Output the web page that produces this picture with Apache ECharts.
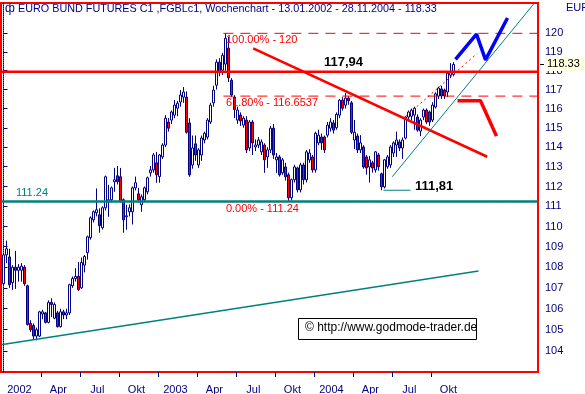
<!DOCTYPE html>
<html>
<head>
<meta charset="utf-8">
<script src="https://cdn.jsdelivr.net/npm/echarts@6.0.0/dist/echarts.min.js"></script>
<style>
html,body{margin:0;padding:0;background:#fff;}
#chart{width:585px;height:394px;}
</style>
</head>
<body>
<div id="chart"></div>
<script>
// ---------------- data ----------------
const instrument = 'EURO BUND FUTURES C1 ,FGBLc1, Wochenchart';
const firstWeek = '2002-01-13';
const opens = [
 107.2,108.6,108.5,107.25,108.0,107.85,107.85,108.0,107.1,105.3,
 105.2,104.7,104.7,105.75,105.8,105.35,106.3,105.55,105.8,105.15,
 105.85,105.7,105.8,107.1,107.45,107.56,107.0,108.1,108.71,109.45,
 110.33,110.68,110.58,109.94,110.93,111.23,111.33,112.24,112.54,112.49,
 111.33,110.48,110.73,110.73,111.93,111.63,111.08,111.33,111.73,112.69,
 112.84,113.2,112.5,113.5,114.11,115.3,115.4,115.66,116.02,116.34,
 116.6,116.6,115.25,113.09,114.17,113.09,113.6,114.37,114.52,115.3,
 116.3,117.23,118.45,118.02,118.35,119.2,117.49,116.6,115.4,115.66,
 115.14,115.4,113.96,115.3,114.01,114.11,113.76,114.11,113.5,113.86,
 114.98,113.35,113.5,112.69,112.99,112.59,111.43,112.34,112.94,111.83,
 113.09,112.34,113.35,113.5,112.84,114.22,114.52,114.52,114.62,114.98,
 115.25,115.0,115.66,116.44,116.18,116.55,116.3,114.37,114.57,113.86,
 114.01,113.5,112.99,113.2,112.84,113.6,112.64,111.98,113.0,113.09,
 113.7,114.11,114.27,113.96,114.47,115.56,115.6,115.66,115.56,114.83,
 115.56,115.92,115.82,115.4,116.08,116.65,117.03,116.97,116.87,117.76,
 117.8];
const highs = [
 108.7,109.3,108.9,108.1,108.8,108.15,108.2,108.1,107.15,105.45,
 105.3,105.1,105.9,105.95,105.85,106.4,106.5,106.3,105.9,106.0,
 105.95,106.0,107.2,107.55,107.95,108.25,108.47,108.6,109.55,110.5,
 110.8,111.9,110.9,111.0,112.55,112.08,112.0,112.94,113.04,112.94,
 111.4,111.08,111.1,112.0,112.5,111.93,111.6,112.0,112.5,113.04,
 113.7,113.76,113.65,114.2,115.66,115.5,115.9,116.44,116.4,116.97,
 117.13,116.9,115.5,114.6,114.6,113.95,114.6,114.8,115.5,116.3,
 117.2,118.6,118.66,118.95,120.0,119.8,117.6,116.7,116.1,115.8,
 115.6,115.6,115.4,115.4,114.4,114.52,114.4,114.2,114.0,115.1,
 115.2,113.7,113.6,113.45,113.2,112.7,112.4,113.1,113.0,113.2,
 113.2,113.85,113.9,113.6,114.8,114.9,114.7,114.6,115.3,115.5,
 115.4,115.8,116.5,116.6,116.81,116.65,116.4,115.4,114.7,114.62,
 114.1,113.6,113.55,113.3,113.8,113.7,112.7,113.4,113.6,114.1,
 114.3,114.8,114.4,114.5,115.6,115.9,116.0,116.1,115.7,115.5,
 116.0,116.0,115.9,116.33,116.85,117.15,117.2,117.05,117.95,118.4,
 118.45];
const lows = [
 107.1,108.2,107.0,106.9,106.95,107.3,107.3,107.1,105.2,104.9,
 104.55,104.5,104.65,105.5,105.3,105.3,105.6,105.5,105.1,105.1,
 105.5,105.5,105.7,107.0,107.3,106.85,106.95,107.75,108.37,109.35,
 110.2,110.5,109.69,109.85,110.8,110.48,111.2,111.73,112.1,111.2,
 109.69,109.84,110.5,110.1,111.8,111.2,110.73,111.2,111.6,112.5,
 112.7,112.19,112.19,113.4,114.0,114.8,115.2,115.5,115.6,116.1,
 116.3,114.7,112.49,112.9,113.3,112.94,113.3,114.2,114.4,115.2,
 116.1,117.0,117.7,117.76,118.0,117.4,116.6,115.5,115.2,115.1,
 115.0,113.7,113.8,113.6,113.8,113.95,113.6,112.69,112.94,113.7,
 113.4,112.69,112.5,112.59,112.3,111.24,111.3,112.2,111.7,111.7,
 112.1,112.2,113.2,112.7,112.7,114.1,113.86,113.7,114.5,114.8,
 114.7,114.9,115.5,115.9,116.0,116.2,114.67,113.9,113.7,113.7,
 112.9,112.6,112.2,112.7,112.7,112.8,111.81,111.9,112.9,112.94,
 113.5,113.5,113.8,113.4,114.4,115.4,115.4,114.9,114.8,114.57,
 115.4,115.2,115.1,115.3,116.0,116.5,116.5,116.5,116.6,117.6,
 117.7];
const closes = [
 108.6,108.9,107.15,108.0,107.85,108.0,108.05,107.2,105.25,105.0,
 104.7,105.0,105.85,105.85,105.35,106.3,106.2,106.2,105.15,105.85,
 105.7,105.8,107.15,107.45,107.55,106.92,108.23,108.52,109.49,110.43,
 110.73,110.83,110.04,110.93,112.49,111.33,111.93,112.34,112.24,111.23,
 110.33,110.53,110.93,111.93,112.19,111.33,111.48,111.93,112.44,112.84,
 113.6,112.59,113.6,114.11,115.5,114.98,115.82,116.18,116.28,116.71,
 116.87,114.77,112.59,113.96,113.6,113.86,114.47,114.72,115.4,116.18,
 116.97,118.45,117.94,118.82,119.73,117.62,116.71,115.95,115.92,115.35,
 115.5,113.86,115.3,114.22,114.11,114.37,114.27,113.35,113.86,114.98,
 113.6,113.5,112.59,113.35,112.49,111.43,112.34,112.99,111.83,113.09,
 112.34,113.76,113.7,112.84,114.72,114.62,114.22,113.86,115.14,115.3,
 114.88,115.7,116.44,116.02,116.55,116.4,114.77,114.77,113.86,114.22,
 112.99,112.94,113.35,112.94,113.76,113.0,111.98,113.35,113.5,114.01,
 114.22,114.37,113.96,114.37,115.56,115.82,115.92,116.02,114.88,115.4,
 115.92,115.3,115.3,116.18,116.77,117.08,116.66,116.66,117.86,117.92,
 118.33];

const quarterStarts = ['2002-01-01','2002-04-01','2002-07-01','2002-10-01','2003-01-01','2003-04-01',
                       '2003-07-01','2003-10-01','2004-01-01','2004-04-01','2004-07-01','2004-10-01'];
const quarterLabels = ['2002','Apr','Jul','Okt','2003','Apr','Jul','Okt','2004','Apr','Jul','Okt'];
const priceTicks = [104,105,106,107,108,109,110,111,112,113,114,115,116,117,118,119,120];

const resistanceLevel = 117.94;
const supportLevel = 111.24;
const low2004 = 111.81;
const fibLevels = [120, 116.6537, 111.24];
const fibNames = ['100.00%','61.80%','0.00%'];
const fibStartWeek = 73.3;
// drawn lines, as [week index, price]
const downTrend   = [[83.23,119.19],[161.23,113.51]];
const longSupport = [[-0.83,104.29],[158.33,107.82]];
const channelLine = [[129.57,112.49],[177.0,121.65]];
const dottedTrend = [[134.0,115.58],[157.9,118.92]];
const bullPath    = [[150.67,118.60],[157.67,119.96],[160.67,118.57],[168.0,120.83]];
const bearPath    = [[151.33,116.41],[159.0,116.41],[164.33,114.57]];
const lowMarker   = [[126.67,111.81],[135.67,111.81]];

// ---------------- helpers ----------------
const FONT = "'Liberation Sans', Arial, sans-serif";
const NAVY = '#000080';
const TEAL = '#008080';
const DAY = 86400000;
const t0 = Date.parse(firstWeek + 'T00:00:00Z');
const pad2 = n => (n < 10 ? '0' : '') + n;
const fmtDate = t => { const d = new Date(t); return pad2(d.getUTCDate()) + '.' + pad2(d.getUTCMonth()+1) + '.' + d.getUTCFullYear(); };
const weekDates = opens.map((_, i) => fmtDate(t0 + i*7*DAY));
const weekPos = iso => Math.ceil((Date.parse(iso + 'T00:00:00Z') - t0) / (7*DAY)) + 0.5;
const tickVals = quarterStarts.slice(1).map(weekPos);
const labelVals = quarterStarts.map(q => weekPos(q) + 5.8);
const lastClose = closes[closes.length-1];

const X_MIN = -0.8333, X_MAX = X_MIN + 179;
const Y_MIN = 103.02, Y_MAX = 121.65;

const candles = opens.map((o, i) => [i, o, closes[i], lows[i], highs[i]]);

function lineSeries(data, color, width, type, z) {
  return { type:'line', data, symbol:'none', showSymbol:false, silent:true, z: z||5, animation:false,
           lineStyle:{color, width, type: type||'solid', cap:'butt'} };
}
function textItem(coord, text, opts) {
  return { value: coord, label: Object.assign({ show:true, formatter:text, fontFamily:FONT,
           fontSize:11, color:'#ff0000', align:'left', verticalAlign:'top', opacity:1 }, opts) };
}

const annotations = [
  textItem([114, resistanceLevel], '117,94', {color:'#000', fontSize:13, fontWeight:'bold', position:[-21,-15]}),
  textItem([137.33, low2004], '111,81', {color:'#000', fontSize:13, fontWeight:'bold', position:[0,-10]}),
  textItem([4.33, supportLevel], '111.24', {color:TEAL, fontSize:11, position:[0,-14]})
];
fibLevels.forEach((lv, k) => {
  annotations.push(textItem([fibStartWeek + 1, lv], fibNames[k] + ' - ' + lv, {color:'#ff0000', fontSize:11, position:[0,2]}));
});

const series = [
  { type:'candlestick', data:candles, encode:{x:0, y:[1,2,3,4]}, barWidth:2, z:2, animation:false, silent:true,
    itemStyle:{color:'#ffffff', color0:'#ff0000', borderColor:NAVY, borderColor0:NAVY, borderWidth:1} },
  lineSeries(longSupport, TEAL, 1.5),
  lineSeries([[X_MIN, supportLevel],[X_MAX, supportLevel]], TEAL, 2.5),
  lineSeries([[X_MIN, resistanceLevel],[X_MAX, resistanceLevel]], '#ff0000', 2.5),
  lineSeries(downTrend, '#ff0000', 2.5),
  lineSeries(channelLine, TEAL, 1),
  lineSeries(dottedTrend, '#ff0000', 1, [2,3]),
  lineSeries(lowMarker, TEAL, 1),
  lineSeries(bullPath, '#0000ff', 3.5, 'solid', 6),
  lineSeries(bearPath, '#ff0000', 3.5, 'solid', 6)
];
fibLevels.forEach(lv => series.push(lineSeries([[fibStartWeek, lv],[X_MAX, lv]], '#ff0000', 1, [10,7], 4)));
series.push({ type:'scatter', data:annotations, symbol:'rect', symbolSize:1, silent:true, z:10, animation:false,
              itemStyle:{color:'rgba(0,0,0,0)', opacity:1}, labelLayout:{hideOverlap:false} });

const option = {
  animation:false,
  backgroundColor:'#ffffff',
  title:[
    { text:'\u0444', left:5, top:3, padding:0, textStyle:{fontFamily:FONT, fontSize:12, fontWeight:'normal', color:NAVY} },
    { text: instrument + ' - ' + weekDates[0] + ' - ' + weekDates[weekDates.length-1] + ' - ' + lastClose.toFixed(2),
      left:18, top:4, padding:0, textStyle:{fontFamily:FONT, fontSize:10.8, fontWeight:'normal', color:NAVY} },
    { text:'EUR', left:566, top:2, padding:0, textStyle:{fontFamily:FONT, fontSize:11, fontWeight:'normal', color:NAVY} }
  ],
  grid:{ left:1, right:47, top:3, bottom:22, show:true, borderColor:'#ff0000', borderWidth:2,
         backgroundColor:'#ffffff', containLabel:false, outerBoundsMode:'none' },
  xAxis:{ type:'value', min:X_MIN, max:X_MAX, position:'bottom',
    axisLine:{show:false}, splitLine:{show:false},
    axisTick:{show:true, customValues:tickVals, length:5, lineStyle:{color:NAVY}},
    axisLabel:{show:true, customValues:labelVals, color:NAVY, fontSize:11, fontFamily:FONT, margin:12,
      formatter:v => { const k = labelVals.findIndex(x => Math.abs(x - v) < 0.01); return k >= 0 ? quarterLabels[k] : ''; } } },
  yAxis:[
    { type:'log', logBase:10, min:Y_MIN, max:Y_MAX, position:'right', offset:2,
      axisLine:{show:true, lineStyle:{color:'#000', type:'dotted', width:1}},
      splitLine:{show:false},
      axisTick:{show:true, customValues:priceTicks, length:4, lineStyle:{color:NAVY}},
      axisLabel:{show:true, customValues:priceTicks, color:NAVY, fontSize:11, fontFamily:FONT, margin:5,
        formatter:v => String(Math.round(v))} },
    { type:'log', logBase:10, min:Y_MIN, max:Y_MAX, position:'right', offset:2,
      axisLine:{show:false}, splitLine:{show:false},
      axisTick:{show:true, customValues:[lastClose], length:4, lineStyle:{color:'#000'}},
      axisLabel:{show:true, customValues:[lastClose], color:'#000', fontSize:11, fontFamily:FONT, margin:5,
        backgroundColor:'#ffffe1', padding:[1,8,1,2], formatter:() => lastClose.toFixed(2)} }
  ],
  graphic:[
    { type:'rect', left:298, top:318, shape:{width:178, height:21}, style:{fill:'#ffffff', stroke:'#000000', lineWidth:1}, z:100 },
    { type:'text', left:305, top:322, style:{text:'\u00a9 http://www.godmode-trader.de', fill:'#000', font:'12px ' + FONT}, z:101 }
  ],
  series
};
const chart = echarts.init(document.getElementById('chart'));
chart.setOption(option);
</script>
</body>
</html>
